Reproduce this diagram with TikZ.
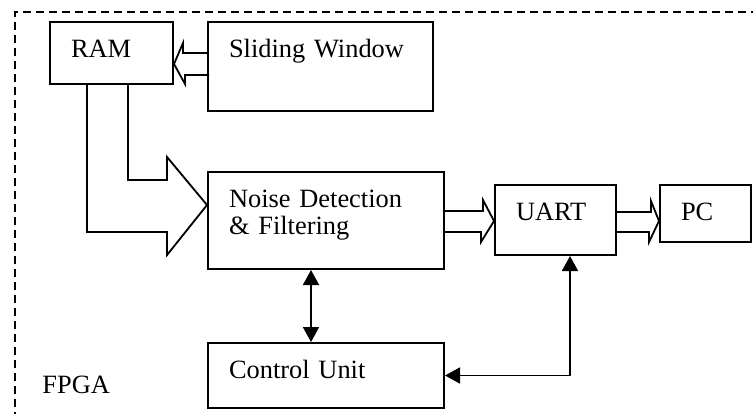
\documentclass[tikz,border=0pt]{standalone}
\usepackage{fontspec}
\setmainfont{Liberation Serif}
\usetikzlibrary{arrows.meta,calc}

\begin{document}
\begin{tikzpicture}[
    x=0.5pt, y=-0.5pt,
    font=\fontsize{13.2}{13.5}\selectfont,
    block/.style={draw, line width=1pt, anchor=north west, align=left, inner xsep=10.5pt, inner ysep=0pt, text height=17.5pt},
    fatarrow/.style={draw, line width=0.9pt, line join=miter},
    link/.style={<->, line width=0.9pt, >={Triangle[length=7.5pt, width=8pt]}},
    border/.style={line width=0.9pt, dash pattern=on 4pt off 2.5pt},
]
    \useasboundingbox (0,0) rectangle (753,413);

    % FPGA frame
    \draw[border] (15,420) |- (760,12);
    \node[anchor=base west, inner sep=0pt] (fpga) at (42,393) {FPGA};

    \node[block, text width=40.5pt, text depth=13.5pt] (ram) at (49,21) {RAM};
    \node[block, text width=91.5pt, text depth=27pt] (slide) at (207,21) {Sliding Window};
    \node[block, text width=97pt, text depth=31pt] (noise) at (207,171) {Noise Detection\\\& Filtering};
    \node[block, text width=39.5pt, text depth=17.5pt] (uart) at (494,184) {UART};
    \node[block, text width=24.5pt, text depth=11pt] (pc) at (659,184) {PC};
    \node[block, text width=97pt, text depth=15pt] (ctrl) at (207,342) {Control Unit};

    % wide data paths
    \draw[fatarrow] ($(slide.west)+(0,-13.5)$) -- ++(-24,0) -- ++(0,-10)
        -- ($(ram.east)+(0,11)$) -- ++(11,20) -- ++(0,-9) -- ++(24,0);
    \draw[fatarrow] ($(ram.south west)+(38,0)$) -- ++(0,147) -- ++(80,0) -- ++(0,23)
        -- ($(noise.west)+(0,-15.5)$) -- ++(-40,-48) -- ++(0,23) -- ++(-39,0) -- ++(0,-96);
    \draw[fatarrow] ($(noise.east)+(0,-9.5)$) -- ++(38,0) -- ++(0,-11)
        -- ($(uart.west)+(0,1)$) -- ++(-13,21) -- ++(0,-10) -- ++(-38,0);
    \draw[fatarrow] ($(uart.east)+(0,-8)$) -- ++(34,0) -- ++(0,-11)
        -- ($(pc.west)+(0,7.5)$) -- ++(-10,21) -- ++(0,-10) -- ++(-34,0);

    % control lines
    \draw[link] ($(noise.south)+(-15,0)$) -- ($(ctrl.north)+(-15,0)$);
    \draw[link] (ctrl.east) -| ($(uart.south)+(14.5,0)$);
\end{tikzpicture}
\end{document}
